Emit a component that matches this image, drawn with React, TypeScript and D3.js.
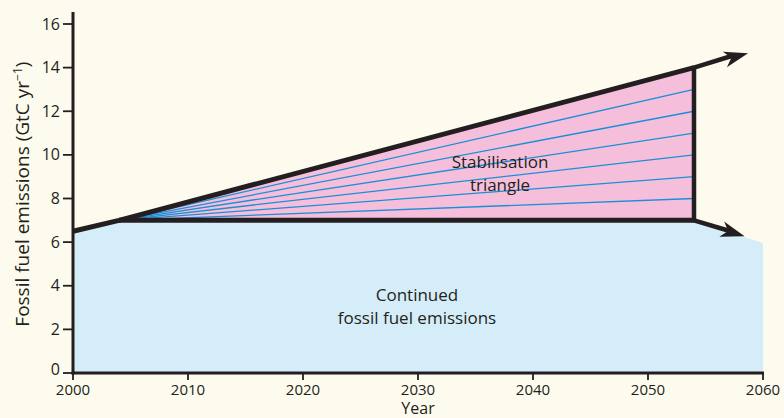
import * as d3 from "d3";

// emissions path (GtC per year)
const baseYears = [2000, 2004, 2054, 2060];
const continuedEmissions = [6.5, 7, 7, 5.95];
const bauYears = [2000, 2004, 2054];
const bauEmissions = [6.5, 7, 14];
const upperArrowTip = { year: 2058.7, value: 14.66 };
const lowerArrowTip = { year: 2058.4, value: 6.27 };
const wedgeEnds = [8, 9, 10, 11, 12, 13];
const xTicks = [2000, 2010, 2020, 2030, 2040, 2050, 2060];
const yTicks = [0, 2, 4, 6, 8, 10, 12, 14, 16];

const W = 784;
const H = 418;
const INK = "#231f20";
const FONT = "'Open Sans', 'Noto Sans', sans-serif";

const x = d3.scaleLinear().domain([2000, 2060]).range([73, 763]);
const y = d3.scaleLinear().domain([0, 16]).range([373, 24]);

function arrowHead(x0: number, y0: number, x1: number, y1: number, len = 24, half = 8) {
  const dx = x1 - x0;
  const dy = y1 - y0;
  const d = Math.hypot(dx, dy);
  const ux = dx / d;
  const uy = dy / d;
  const px = -uy;
  const py = ux;
  const bx = x1 - ux * len;
  const by = y1 - uy * len;
  const nx = x1 - ux * len * 0.72;
  const ny = y1 - uy * len * 0.72;
  return `M${x1},${y1}L${bx + px * half},${by + py * half}L${nx},${ny}L${bx - px * half},${by - py * half}Z`;
}

export default function App() {
  const area = d3
    .area<number>()
    .x((_, i) => x(baseYears[i]))
    .y0(y(0))
    .y1((d) => y(d));

  const line = d3
    .line<number>()
    .x((_, i) => x(bauYears[i]))
    .y((d) => y(d));

  const startYear = bauYears[1];
  const endYear = bauYears[2];
  const level = continuedEmissions[1];

  const triangle = `M${x(startYear)},${y(level)}L${x(endYear)},${y(bauEmissions[2])}L${x(endYear)},${y(level)}Z`;

  const upTip = [x(upperArrowTip.year), y(upperArrowTip.value)];
  const lowTip = [x(lowerArrowTip.year), y(lowerArrowTip.value)];
  const corner = [x(endYear), y(bauEmissions[2])];
  const lowCorner = [x(endYear), y(level)];

  return (
    <svg
      width={W}
      height={H}
      style={{ position: "absolute", left: 0, top: 0, background: "#fdfbed" }}
      fontFamily={FONT}
    >
      <rect width={W} height={H} fill="#fdfbed" />
      {/* continued emissions */}
      <path d={area(continuedEmissions) ?? ""} fill="#d5ecf9" />
      {/* stabilisation triangle */}
      <path d={triangle} fill="#f5bfdb" />
      {wedgeEnds.map((v) => (
        <line
          key={v}
          x1={x(startYear)}
          y1={y(level)}
          x2={x(endYear)}
          y2={y(v)}
          stroke="#1b8fd6"
          strokeWidth={1.3}
        />
      ))}

      {/* thick outlines */}
      <path d={line(bauEmissions) ?? ""} fill="none" stroke={INK} strokeWidth={5} strokeLinejoin="round" />
      <line x1={x(startYear)} y1={y(level)} x2={x(endYear)} y2={y(level)} stroke={INK} strokeWidth={5} />
      <line x1={x(endYear)} y1={y(bauEmissions[2]) - 2} x2={x(endYear)} y2={y(level) + 2} stroke={INK} strokeWidth={4.5} />
      <line x1={corner[0]} y1={corner[1]} x2={upTip[0] - 14} y2={upTip[1] + 2} stroke={INK} strokeWidth={4.5} />
      <path d={arrowHead(corner[0], corner[1], upTip[0], upTip[1])} fill={INK} />
      <line x1={lowCorner[0]} y1={lowCorner[1]} x2={lowTip[0] - 14} y2={lowTip[1] - 5} stroke={INK} strokeWidth={4.5} />
      <path d={arrowHead(lowCorner[0], lowCorner[1], lowTip[0], lowTip[1])} fill={INK} />

      {/* axes */}
      <line x1={x(2000)} y1={y(16.55)} x2={x(2000)} y2={y(0) + 1.5} stroke={INK} strokeWidth={3} />
      <line x1={x(2000) - 1.5} y1={y(0)} x2={x(2060) + 1} y2={y(0)} stroke={INK} strokeWidth={3} />
      {yTicks.map((t) => (
        <g key={t} transform={`translate(${x(2000)},${y(t)})`}>
          <line x1={-10} x2={0} stroke={INK} strokeWidth={1.8} />
          <text x={-13} dy={t === 0 ? "0.15em" : "0.35em"} textAnchor="end" fontSize={16} fill={INK}>
            {t}
          </text>
        </g>
      ))}
      {xTicks.map((t) => (
        <g key={t} transform={`translate(${x(t)},${y(0)})`}>
          <line y1={0} y2={7} stroke={INK} strokeWidth={1.8} />
          <text y={22} textAnchor="middle" fontSize={15} fill={INK}>
            {t}
          </text>
        </g>
      ))}
      <text x={x(2030)} y={414} textAnchor="middle" fontSize={16} fill={INK}>
        Year
      </text>
      <text
        transform={`translate(29,${y(8.2)}) rotate(-90)`}
        textAnchor="middle"
        fontSize={19}
        fill={INK}
      >
        Fossil fuel emissions (GtC yr
        <tspan dy={-7} fontSize={12}>
          −1
        </tspan>
        <tspan dy={7}>)</tspan>
      </text>

      {/* annotations */}
      <text x={500} textAnchor="middle" fontSize={17} fill={INK}>
        <tspan x={500} y={168}>Stabilisation</tspan>
        <tspan x={500} y={191}>triangle</tspan>
      </text>
      <text textAnchor="middle" fontSize={17} fill={INK}>
        <tspan x={417} y={301}>Continued</tspan>
        <tspan x={417} y={324}>fossil fuel emissions</tspan>
      </text>
    </svg>
  );
}
